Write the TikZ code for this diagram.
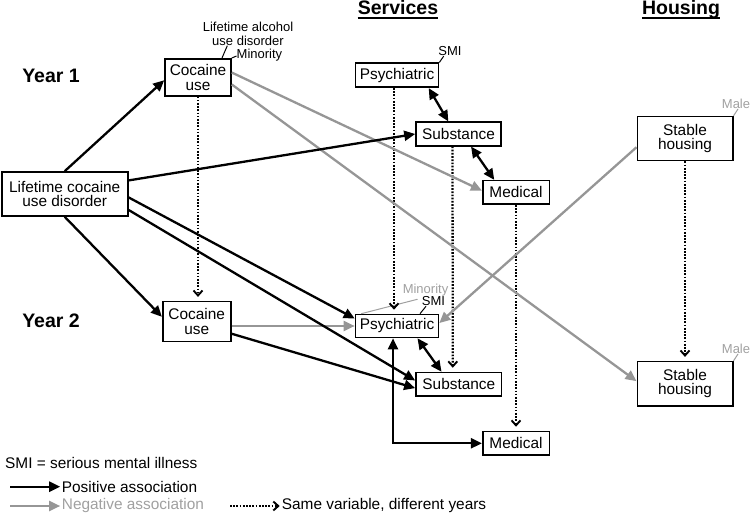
\documentclass[tikz,border=0pt]{standalone}
\usepackage{fontspec}
\setmainfont{Liberation Sans}
\usetikzlibrary{arrows.meta}
\definecolor{neg}{RGB}{150,150,150}
\definecolor{neglab}{RGB}{160,160,160}
\begin{document}
\begin{tikzpicture}[x=1pt,y=-1pt,
  box/.style={draw,line width=1.6pt,align=center,inner sep=0pt,font=\fontsize{15.4}{14.5}\selectfont},
  lab/.style={inner sep=0pt,font=\fontsize{13}{13.5}\selectfont},
  titletext/.style={inner sep=0pt,font=\fontsize{19.5}{21}\selectfont\bfseries},
  legtext/.style={inner sep=0pt,anchor=west,font=\fontsize{15.4}{16}\selectfont},
  posarr/.style={line width=2.3pt,-{Triangle[length=11pt,width=10pt]}},
  negarr/.style={neg,line width=2.3pt,-{Triangle[length=11pt,width=10pt]}},
  bothdir/.style={line width=2.3pt,{Triangle[length=11pt,width=10pt]}-{Triangle[length=11pt,width=10pt]}},
  samearr/.style={line width=2.3pt,dash pattern=on 1.7pt off 1.5pt,-{Straight Barb[length=5pt,width=9pt,line width=1.9pt]},shorten >=4pt},
  tickln/.style={line width=1pt},
]
\useasboundingbox (0,0) rectangle (752,518);

% titles
\node[titletext,anchor=base] (serv) at (398,15) {Services};
\node[titletext,anchor=base] (hous) at (681,15) {Housing};
\draw[line width=1.8pt] ([yshift=-3.3pt]serv.base west) -- ([yshift=-3.3pt]serv.base east);
\draw[line width=1.8pt] ([yshift=-3.3pt]hous.base west) -- ([yshift=-3.3pt]hous.base east);
\node[titletext] (y1) at (51,75.5) {Year 1};
\node[titletext] (y2) at (51,320.5) {Year 2};

% boxes
\node[box,minimum width=126pt,minimum height=44pt] (life) at (64.7,194) {Lifetime cocaine\\use disorder};
\node[box,minimum width=66pt,minimum height=37pt] (coc1) at (198,77.3) {Cocaine\\use};
\node[box,minimum width=68pt,minimum height=40pt] (coc2) at (196.7,321.7) {Cocaine\\use};
\node[box,minimum width=83pt,minimum height=24pt] (psy1) at (397,75.3) {Psychiatric};
\node[box,minimum width=85pt,minimum height=23.5pt] (sub1) at (458.5,134) {Substance};
\node[box,minimum width=66.6pt,minimum height=23.5pt] (med1) at (516,192.4) {Medical};
\node[box,minimum width=83pt,minimum height=23pt] (psy2) at (397,326) {Psychiatric};
\node[box,minimum width=85.7pt,minimum height=23.5pt] (sub2) at (458.8,384.3) {Substance};
\node[box,minimum width=66.6pt,minimum height=23.5pt] (med2) at (516,443.3) {Medical};
\node[box,minimum width=95.4pt,minimum height=44pt] (hou1) at (685,138.7) {Stable\\housing};
\node[box,minimum width=95.4pt,minimum height=44pt] (hou2) at (685,383.7) {Stable\\housing};

% small labels
\node[lab,align=center] (alc) at (248,34) {Lifetime alcohol\\use disorder};
\node[lab] (min1) at (259.5,55) {Minority};
\draw[tickln] ([xshift=24pt]coc1.north) -- ([xshift=-20.7pt]alc.south);
\draw[tickln] (coc1.north east) -- ([yshift=-1pt]min1.west);
\node[lab] (smi1) at (450,51.3) {SMI};
\draw[tickln] (psy1.north east) -- ([xshift=5.5pt]smi1.south west);
\node[lab,text=neglab] (male1) at (736,104) {Male};
\draw[tickln,neglab] (hou1.north east) -- ([xshift=2pt]male1.south);
\node[lab,text=neglab] (male2) at (736,349) {Male};
\draw[tickln,neglab] (hou2.north east) -- ([xshift=2pt]male2.south);
\node[lab,text=neglab] (min2) at (425.5,290) {Minority};
\node[lab] (smi2) at (433.5,301.5) {SMI};
\draw[tickln,neglab] ([xshift=6.5pt]psy2.north west) -- ([xshift=-8pt,yshift=-3pt]min2.south);
\draw[tickln] ([xshift=23pt]psy2.north) -- ([xshift=-7.5pt]smi2.south);

% dotted same-variable arrows
\draw[samearr] (coc1.south) -- (coc1.south |- coc2.north);
\draw[samearr] ([xshift=-3pt]psy1.south) -- ([xshift=-3pt]psy2.north);
\draw[samearr] ([xshift=-6pt]sub1.south) -- ([xshift=-6pt]sub2.north);
\draw[samearr] (med1.south) -- (med2.north);
\draw[samearr] (hou1.south) -- (hou2.north);

% negative associations
\draw[negarr] (coc2.east |- psy2.west) -- (psy2.west);
\draw[negarr] (coc1.8) -- (med1.177);
\draw[negarr] (coc1.-12) -- (hou2.177);
\draw[negarr] (hou1.190) -- (psy2.4);

% positive associations
\draw[posarr] (life.north) -- (coc1.185);
\draw[posarr] (life.south) -- (coc2.172);
\draw[posarr] (life.12) -- (sub1.west);
\draw[posarr] (life.-3) -- (psy2.170);
\draw[posarr] (life.-14) -- (sub2.175);
\draw[posarr] (coc2.-19) -- (sub2.185);
\draw[bothdir] (psy1.-22.5) -- (sub1.129);
\draw[bothdir] (sub1.-45) -- (med1.150);
\draw[bothdir] (psy2.-31) -- (sub2.144);
\draw[bothdir] ([xshift=-4pt]psy2.south) -- ([xshift=-4pt]psy2.south |- med2.west) -- (med2.west);

% legend
\node[legtext] (smileg) at (5,462.5) {SMI = serious mental illness};
\coordinate (pa) at (10,486.7);
\node[legtext] (posl) at (61.7,486.7) {Positive association};
\draw[posarr,shorten >=1.5pt] (pa) -- (posl.west);
\coordinate (na) at (10,506);
\node[legtext,text=neglab] (negl) at (61.7,506) {Negative association};
\draw[negarr,shorten >=1.5pt] (na) -- (negl.west);
\coordinate (sa) at (230,506);
\node[legtext] (samel) at (281.7,506) {Same variable, different years};
\draw[samearr,shorten >=2pt] (sa) -- (samel.west);
\end{tikzpicture}
\end{document}
